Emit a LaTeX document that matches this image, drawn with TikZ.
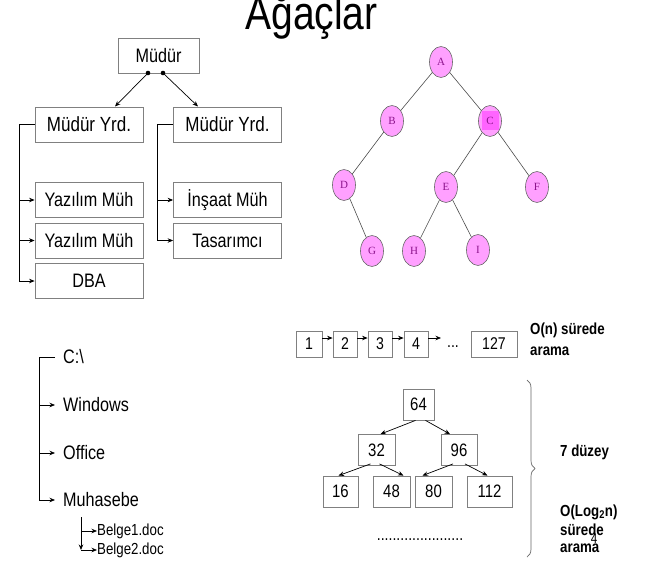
\documentclass[tikz,border=0pt]{standalone}
\usepackage{fontspec}
\setmainfont[FakeStretch=0.83]{Liberation Sans}
\newfontfamily\serifnode{Liberation Serif}
\usetikzlibrary{arrows.meta,shapes.geometric,decorations.pathreplacing}
\definecolor{boxgray}{RGB}{128,128,128}
\definecolor{nodepink}{RGB}{255,160,255}
\definecolor{nodehl}{RGB}{255,100,255}
\definecolor{nodetext}{RGB}{140,20,140}
\tikzset{
  orgbox/.style={draw=boxgray,line width=0.8pt,minimum width=108pt,minimum height=35pt,inner sep=0pt,font=\fontsize{19.5}{22}\selectfont},
  numbox/.style={draw=boxgray,line width=0.8pt,minimum height=31pt,inner sep=0pt,font=\fontsize{18}{20}\selectfont},
  listbox/.style={draw=boxgray,line width=0.8pt,minimum height=26pt,inner sep=0pt,font=\fontsize{17}{19}\selectfont},
  treenode/.style={ellipse,draw=black!60,line width=0.6pt,fill=nodepink,minimum width=23pt,minimum height=31pt,inner sep=0pt,font=\serifnode\fontsize{11}{12}\selectfont,text=nodetext},
  tedge/.style={draw=black!70,line width=0.6pt},
  arr/.style={-{Stealth[length=5.5pt,width=4.5pt]},line width=0.7pt},
  conn/.style={line width=0.8pt},
  lbl/.style={anchor=west,inner sep=0pt,font=\fontsize{19.5}{22}\selectfont},
  blbl/.style={anchor=west,inner sep=0pt,align=left,font=\bfseries\fontsize{16}{21}\selectfont},
}
\begin{document}
\begin{tikzpicture}[x=1pt,y=-1pt]
\useasboundingbox (0,0) rectangle (646,571);
% title
\node[anchor=base,inner sep=0pt,font=\fontsize{47}{50}\selectfont] (title) at (311.5,29) {Ağaçlar};

% ---------- org chart ----------
\node[orgbox,minimum width=81pt] (mudur) at (158.5,55.5) {Müdür};
\node[orgbox] (y1) at (89,124.5) {\fontsize{20.5}{22}\selectfont Müdür Yrd.};
\node[orgbox] (y2) at (227.5,124.5) {\fontsize{20.5}{22}\selectfont Müdür Yrd.};
\node[orgbox] (yz1) at (89,200) {Yazılım Müh};
\node[orgbox] (yz2) at (89,240.5) {Yazılım Müh};
\node[orgbox] (dba) at (89,281) {DBA};
\node[orgbox] (ins) at (227.5,200) {İnşaat Müh};
\node[orgbox] (tas) at (227.5,240.5) {Tasarımcı};

\coordinate (d1) at (148,73);
\coordinate (d2) at (163,73);
\fill (d1) circle (2.3pt);
\fill (d2) circle (2.3pt);
\draw[arr] (d1) -- (115,106.5);
\draw[arr] (d2) -- (198,106.5);

\coordinate (lb) at (19,124.5);
\draw[conn] (y1.west) -- (lb) -- (19,281);
\draw[arr] (19,200) -- (yz1.west);
\draw[arr] (19,240.5) -- (yz2.west);
\draw[arr] (19,281) -- (dba.west);
\coordinate (rb) at (157,124.5);
\draw[conn] (y2.west) -- (rb) -- (157,240.5);
\draw[arr] (157,200) -- (ins.west);
\draw[arr] (157,240.5) -- (tas.west);

% ---------- binary tree ----------
\node[treenode] (A) at (441,62) {A};
\node[treenode] (B) at (392,121) {B};
\node[treenode,path picture={\fill[nodehl] ([xshift=-8pt,yshift=-9pt]path picture bounding box.center) rectangle ([xshift=9pt,yshift=10pt]path picture bounding box.center);}] (C) at (490,121) {C};
\node[treenode] (D) at (344,185) {D};
\node[treenode] (E) at (446,187) {E};
\node[treenode] (F) at (537,187) {F};
\node[treenode] (G) at (372,251) {G};
\node[treenode] (H) at (414,251) {H};
\node[treenode] (I) at (478,250) {I};
\draw[tedge] (A) -- (B);
\draw[tedge] (A) -- (C);
\draw[tedge] (B) -- (D);
\draw[tedge] (D) -- (G);
\draw[tedge] (C) -- (E);
\draw[tedge] (C) -- (F);
\draw[tedge] (E) -- (H);
\draw[tedge] (E) -- (I);

% ---------- file tree ----------
\node[lbl] (c) at (63,357) {C:\textbackslash};
\node[lbl] (win) at (63,405) {Windows};
\node[lbl] (off) at (63,453) {Office};
\node[lbl] (muh) at (63,500) {Muhasebe};
\node[lbl,font=\fontsize{16}{18}\selectfont] (b1) at (97,531) {Belge1.doc};
\node[lbl,font=\fontsize{16}{18}\selectfont] (b2) at (97,550) {Belge2.doc};
\coordinate (ft) at (39,357);
\draw[conn] (55,357) -- (ft) -- (39,500);
\draw[arr] (39,405) -- (55,405);
\draw[arr] (39,453) -- (55,453);
\draw[arr] (39,500) -- (55,500);
\draw[arr] (81,517) -- (81,550);
\draw[arr] (81,531) -- (b1.west);
\draw[arr] (81,550) -- (b2.west);

% ---------- linked list ----------
\node[listbox,minimum width=26pt] (l1) at (309,344) {1};
\node[listbox,minimum width=24pt] (l2) at (345,344) {2};
\node[listbox,minimum width=24pt] (l3) at (380,344) {3};
\node[listbox,minimum width=24pt] (l4) at (416,344) {4};
\node[anchor=base,inner sep=0pt,font=\fontsize{17}{19}\selectfont] (ldots) at (453,347) {...};
\node[listbox,minimum width=46pt] (l127) at (494,344) {127};
\coordinate (l4e) at (441,338);
\draw[arr] (l1.east |- 0,338) -- (l2.west |- 0,338);
\draw[arr] (l2.east |- 0,338) -- (l3.west |- 0,338);
\draw[arr] (l3.east |- 0,338) -- (l4.west |- 0,338);
\draw[arr] (l4.east |- 0,338) -- (l4e);
\node[blbl] (on) at (530,339) {O(n) sürede\\arama};

% ---------- search tree ----------
\node[numbox,minimum width=31pt] (n64) at (418.5,404.5) {64};
\node[numbox,minimum width=37pt] (n32) at (376.5,450) {32};
\node[numbox,minimum width=36pt] (n96) at (459,450) {96};
\node[numbox,minimum width=35pt] (n16) at (340.5,491.5) {16};
\node[numbox,minimum width=37pt] (n48) at (391.5,491.5) {48};
\node[numbox,minimum width=37pt] (n80) at (433.5,491.5) {80};
\node[numbox,minimum width=45pt] (n112) at (489.5,491.5) {112};
\draw[arr] ([xshift=-3pt]n64.south) -- ([xshift=4pt]n32.north);
\draw[arr] ([xshift=7pt]n64.south) -- ([xshift=-9pt]n96.north);
\draw[arr] ([xshift=-6pt,yshift=2pt]n32.south) -- ([xshift=-2pt]n16.north);
\draw[arr] ([xshift=3pt,yshift=2pt]n32.south) -- ([xshift=12pt]n48.north);
\draw[arr] ([xshift=-6pt,yshift=2pt]n96.south) -- ([xshift=-11pt]n80.north);
\draw[arr] ([xshift=6pt,yshift=2pt]n96.south) -- ([xshift=-2pt]n112.north);
\node[anchor=base,inner sep=0pt,font=\fontsize{17}{19}\selectfont] (tdots) at (420,540) {......................};

% brace
\coordinate (bt) at (527,380);
\coordinate (bb) at (527,557);
\draw[black!60,line width=0.7pt,decorate,decoration={brace,amplitude=8pt}] (bt) -- (bb);

\node[blbl] (duz) at (560,452) {7 düzey};
\node[blbl] (olog) at (560,512) {O(Log\textsubscript{2}n)};
\node[blbl] (sur) at (560,530) {sürede};
\node[blbl] (ara) at (560,548) {arama};
\node[inner sep=0pt,font=\fontsize{14}{16}\selectfont] (pg) at (594,539) {4};
\end{tikzpicture}
\end{document}
